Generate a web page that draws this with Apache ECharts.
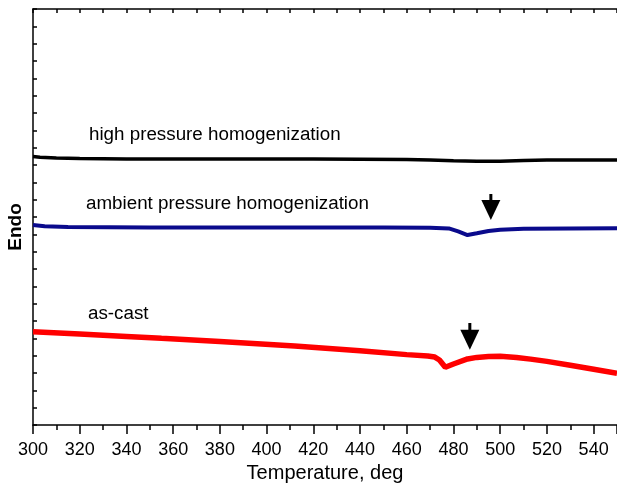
<!DOCTYPE html>
<html>
<head>
<meta charset="utf-8">
<script src="https://cdn.jsdelivr.net/npm/echarts@6/dist/echarts.min.js"></script>
<style>
  html, body { margin: 0; padding: 0; background: #fff; }
  #chart { width: 617px; height: 489px; }
</style>
</head>
<body>
<div id="chart"></div>
<script>
// DSC traces, temperature (deg) vs. heat flow (arbitrary units, endo up)
const highPressure = [
  [300, 15.49], [303, 15.45], [310, 15.41], [320, 15.38], [340, 15.35],
  [380, 15.35], [420, 15.34], [460, 15.32], [470, 15.29], [480, 15.24],
  [490, 15.21], [500, 15.22], [510, 15.26], [520, 15.29], [550, 15.29]
]
const ambientPressure = [
  [300, 11.54], [305, 11.47], [315, 11.42], [350, 11.40], [400, 11.40],
  [450, 11.39], [470, 11.38], [478, 11.34], [482, 11.17], [486, 10.96],
  [490, 11.06], [495, 11.19], [500, 11.27], [510, 11.32], [530, 11.34], [550, 11.35]
]
const asCast = [
  [300, 5.38], [320, 5.25], [340, 5.11], [355, 5.00], [380, 4.82],
  [412, 4.56], [440, 4.28], [460, 4.06], [469, 3.98], [472, 3.92],
  [474, 3.75], [476.5, 3.33], [480, 3.52], [486, 3.81], [490, 3.90],
  [495, 3.95], [500, 3.96], [507, 3.90], [513, 3.80], [520, 3.67],
  [530, 3.45], [540, 3.22], [550, 2.98]
]
// arrows marking the transformation peaks
const arrowX = [496, 487]
const arrowTop = [13.33, 5.89]
const arrowShaftEnd = [12.7, 5.3]
const arrowHead = [12.41, 4.92]

const labels = [
  { text: 'high pressure homogenization', x: 89, y: 135.5 },
  { text: 'ambient pressure homogenization', x: 86, y: 204.5 },
  { text: 'as-cast', x: 88, y: 314.5 }
]

const chart = echarts.init(document.getElementById('chart'))
const font = 'Liberation Sans, Arial, sans-serif'

const shafts = arrowX.map((x, i) => ({
  type: 'line',
  data: [[x, arrowTop[i]], [x, arrowShaftEnd[i]]],
  symbol: 'none',
  lineStyle: { color: '#000', width: 3 },
  silent: true,
  z: 5
}))

chart.setOption({
  animation: false,
  grid: { left: 33, right: -2, top: 9, bottom: 64 },
  xAxis: [
    {
      type: 'value',
      position: 'bottom',
      min: 300,
      max: 550,
      interval: 20,
      name: 'Temperature, deg',
      nameLocation: 'middle',
      nameGap: 37,
      nameTextStyle: { fontSize: 20, fontFamily: font, color: '#000' },
      axisLine: { lineStyle: { color: '#000', width: 1.5 } },
      axisTick: { inside: false, length: 9, lineStyle: { color: '#000', width: 1.5 } },
      minorTick: { show: true, splitNumber: 2, length: 5, lineStyle: { color: '#000', width: 1.5 } },
      axisLabel: { fontSize: 18, fontFamily: font, color: '#000', margin: 16, showMaxLabel: false },
      splitLine: { show: false }
    },
    {
      type: 'value',
      position: 'top',
      min: 300,
      max: 550,
      interval: 10,
      axisLine: { lineStyle: { color: '#000', width: 1.5 } },
      axisTick: { inside: true, length: 4, lineStyle: { color: '#000', width: 1.5 } },
      axisLabel: { show: false },
      splitLine: { show: false }
    }
  ],
  yAxis: {
    type: 'value',
    min: 0,
    max: 24,
    interval: 1,
    axisLine: { show: true, lineStyle: { color: '#000', width: 1.5 } },
    axisTick: { show: true, inside: true, length: 4, lineStyle: { color: '#000', width: 1.5 } },
    axisLabel: { show: false },
    splitLine: { show: false }
  },
  graphic: [
    ...labels.map(l => ({
      type: 'text',
      left: l.x,
      top: l.y - 10,
      style: { text: l.text, fontSize: 18.8, fontFamily: font, fill: '#000' }
    })),
    {
      type: 'text',
      x: 16,
      y: 227,
      rotation: Math.PI / 2,
      style: {
        text: 'Endo', fontSize: 19, fontWeight: 'bold', fontFamily: font, fill: '#000',
        align: 'center', verticalAlign: 'middle'
      }
    }
  ],
  series: [
    {
      name: 'high pressure homogenization',
      type: 'line',
      data: highPressure,
      symbol: 'none',
      lineStyle: { color: '#000', width: 3.5 }
    },
    {
      name: 'ambient pressure homogenization',
      type: 'line',
      data: ambientPressure,
      symbol: 'none',
      lineStyle: { color: '#0a0a8c', width: 4 }
    },
    {
      name: 'as-cast',
      type: 'line',
      data: asCast,
      symbol: 'none',
      lineStyle: { color: '#ff0000', width: 5.5 }
    },
    ...shafts,
    {
      type: 'scatter',
      data: arrowX.map((x, i) => [x, arrowHead[i]]),
      symbol: 'triangle',
      symbolRotate: 180,
      symbolSize: [19, 20],
      itemStyle: { color: '#000', opacity: 1 },
      silent: true,
      z: 5
    }
  ]
})
</script>
</body>
</html>
